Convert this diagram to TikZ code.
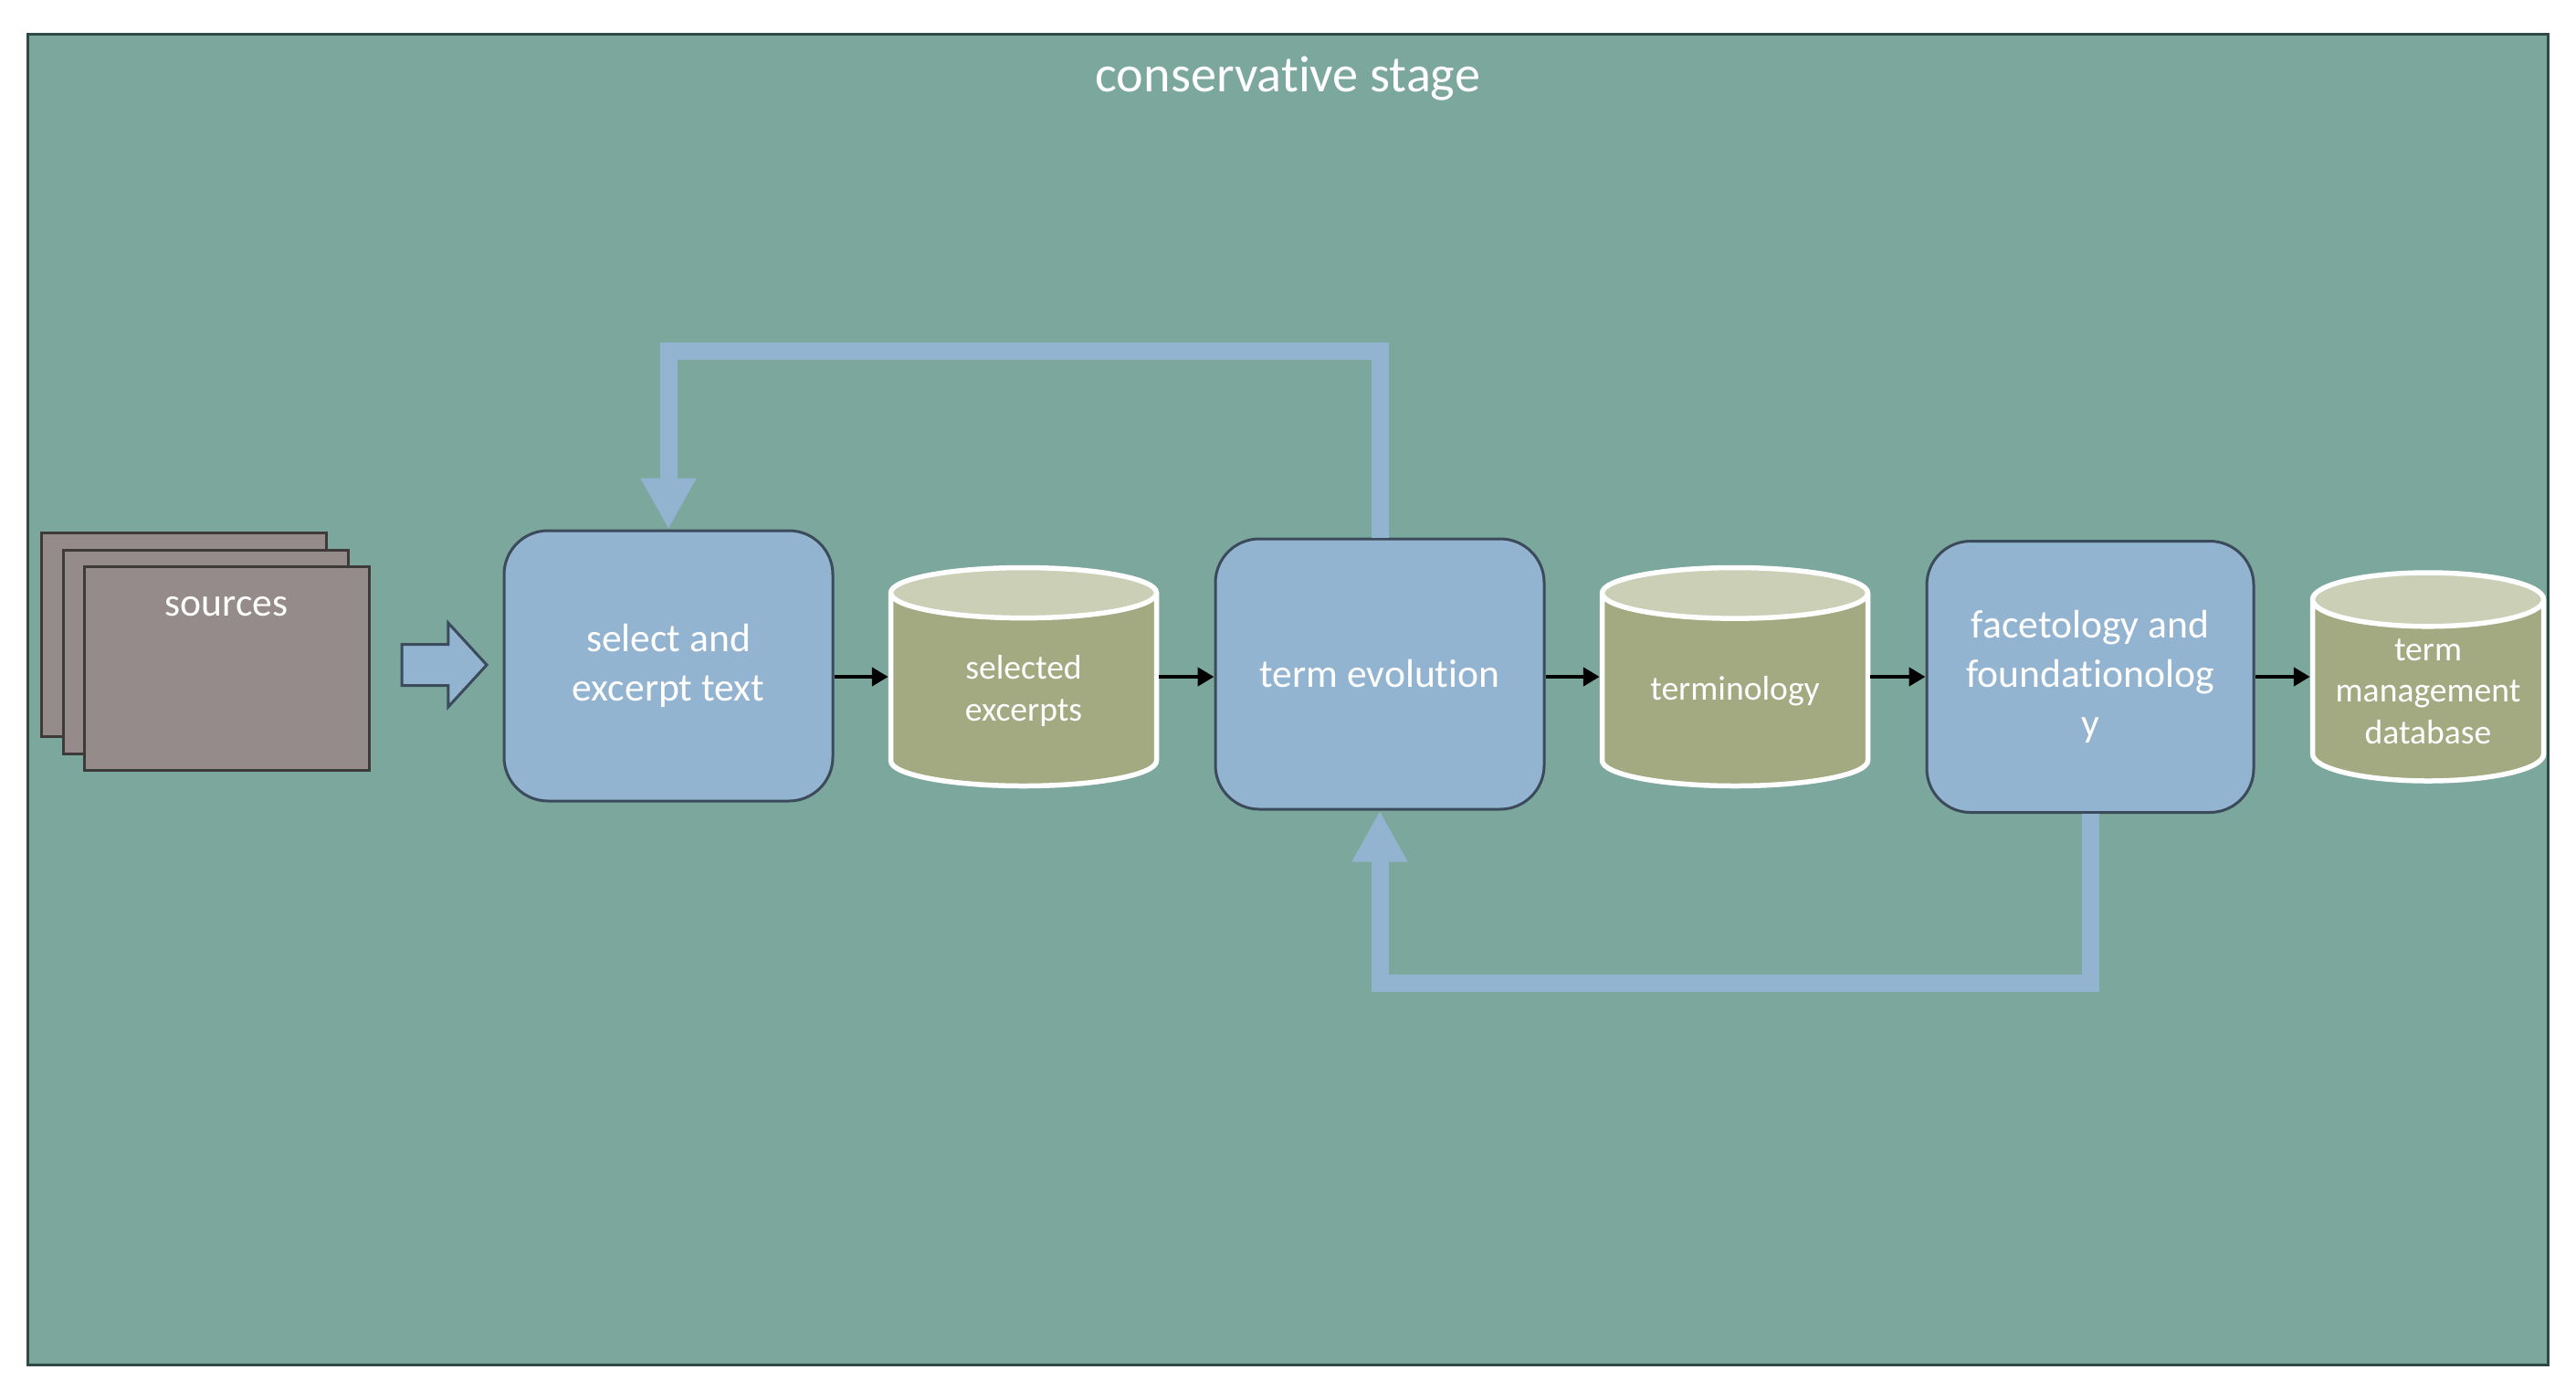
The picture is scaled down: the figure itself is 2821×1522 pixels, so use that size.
\documentclass[tikz,border=0pt]{standalone}
\usepackage{fontspec}
\setmainfont{Carlito}[Ligatures=NoCommon]
\usetikzlibrary{calc,shapes.geometric,shapes.arrows,arrows.meta}

\definecolor{stagebg}{HTML}{7BA79D}
\definecolor{stageline}{HTML}{2F4A44}
\definecolor{boxfill}{HTML}{93B4D1}
\definecolor{boxline}{HTML}{3C4B5B}
\definecolor{srcfill}{HTML}{948B8A}
\definecolor{srcline}{HTML}{3F3A3A}
\definecolor{cylbody}{HTML}{A3AA81}
\definecolor{cyltop}{HTML}{CBCFB6}

\begin{document}
\begin{tikzpicture}[x=0.1mm,y=-0.1mm,
    stepbox/.style={draw=boxline, fill=boxfill, line width=0.3mm, rounded corners=4.8mm,
      minimum width=36mm, minimum height=29.6mm, inner sep=0pt, align=center,
      text=white, font=\fontsize{12.4}{15.4}\selectfont},
    store/.style={cylinder, shape border rotate=90, aspect=0.43, draw=white, line width=0.55mm,
      cylinder uses custom fill, cylinder body fill=cylbody, cylinder end fill=cyltop,
      minimum width=29.1mm, minimum height=23.9mm, inner sep=0pt, align=center,
      text=white, font=\fontsize{10.7}{13}\selectfont, anchor=shape center},
    page/.style={draw=srcline, fill=srcfill, line width=0.3mm,
      minimum width=31.2mm, minimum height=22.3mm, inner sep=0pt},
    flow/.style={line width=0.45mm, -{Triangle[length=1.8mm,width=2mm]}},
    feedback/.style={draw=boxfill, line width=1.9mm, -{Triangle[length=5.6mm,width=5.7mm]}}]
  \useasboundingbox (0,0) rectangle (2821,1522);

  %% The stage frame and its title
  \node[draw=stageline, fill=stagebg, line width=0.25mm, minimum width=276mm,
    minimum height=145.7mm, anchor=north west] (stage) at (29,36) {};
  \node[anchor=base, text=white, font=\fontsize{16}{19}\selectfont] (title)
    at ($(stage.north)+(0,64)$) {conservative stage};

  %% Stack of source pages
  \foreach \i/\x/\y in {1/201/695, 2/225/714, 3/248/732}
  {
    \node[page] (src\i) at (\x,\y) {};
  }
  \node[inner sep=0pt, text=white, font=\fontsize{12.4}{15.4}\selectfont] (srclabel)
    at ($(src3.north)+(0,45)$) {sources};
  \node[single arrow, draw=boxline, fill=boxfill, line width=0.3mm, inner sep=2.1mm,
    minimum height=9.3mm, single arrow head extend=2.35mm, single arrow tip angle=95,
    anchor=tail] (push) at ($(src3.east)+(33,-4)$) {};

  %% Process steps and stores
  \node[stepbox] (select) at (732,729) {select and\\excerpt text};
  \node[store] (excerpts) at (1121,741) {selected\\excerpts};
  \node[stepbox] (evol) at (1511,738) {term evolution};
  \node[store, aspect=0.3] (termin) at (1900,741) {terminology};
  \node[stepbox, minimum width=35.8mm, minimum height=29.7mm] (facet) at (2289,741)
    {facetology and\\foundationolog\\y};
  \node[store, aspect=0.29, minimum width=25.3mm, minimum height=22.8mm] (tmdb) at (2659,741)
    {term\\management\\database};

  %% Forward arrows
  \foreach \a/\b/\c in {select/excerpts/excerpts, excerpts/evol/excerpts,
    evol/termin/termin, termin/facet/termin, facet/tmdb/tmdb}
  {
    \draw[flow] (\a.east |- \c.shape center) -- (\b.west |- \c.shape center);
  }

  %% Feedback loops
  \draw[feedback] (evol.north) -- ++(0,-204) -| (select.north);
  \draw[feedback] (facet.south) -- ++(0,185) -| (evol.south);

\end{tikzpicture}
\end{document}
